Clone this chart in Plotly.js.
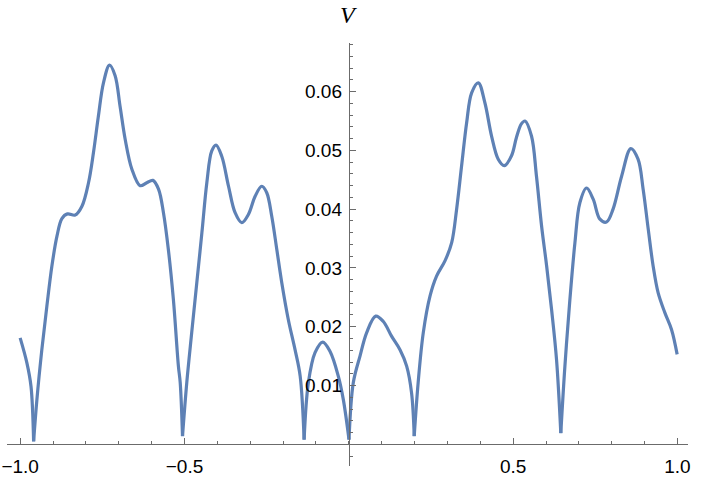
<!DOCTYPE html>
<html>
<head>
<meta charset="utf-8">
<script src="https://cdn.plot.ly/plotly-3.0.1.min.js"></script>
<style>html,body{margin:0;padding:0;background:#fff;}#chart{width:720px;height:480px;}</style>
</head>
<body>
<div id="chart"></div>
<script>
// Data
const tValues = [-1.000,-0.9795,-0.967,-0.959,-0.949,-0.934,-0.9187,-0.9035,-0.888,-0.873,-0.856,-0.8326,-0.812,-0.792,-0.777,-0.762,-0.7465,-0.728,-0.711,-0.696,-0.6805,-0.660,-0.635,-0.6146,-0.596,-0.579,-0.564,-0.549,-0.5337,-0.5185,-0.513,-0.506,-0.493,-0.478,-0.4625,-0.447,-0.432,-0.417,-0.404,-0.3866,-0.366,-0.346,-0.3257,-0.3056,-0.285,-0.265,-0.2497,-0.2345,-0.219,-0.204,-0.184,-0.1636,-0.148,-0.136,-0.123,-0.1028,-0.0794,-0.057,-0.032,-0.0167,0.0006,0.0137,0.034,0.0544,0.0818,0.105,0.130,0.1557,0.176,0.191,0.199,0.211,0.2266,0.247,0.267,0.2925,0.313,0.328,0.343,0.3585,0.3737,0.394,0.414,0.4345,0.4546,0.473,0.495,0.510,0.525,0.536,0.556,0.571,0.5866,0.602,0.617,0.632,0.645,0.6575,0.6726,0.688,0.703,0.7234,0.7435,0.764,0.784,0.804,0.830,0.858,0.880,0.8955,0.911,0.926,0.941,0.9615,0.982,0.999];
const vValues = [0.0181,0.01386,0.00988,0.0005,0.0076,0.0161,0.0235,0.0303,0.0354,0.0384,0.0392,0.0390,0.0405,0.0445,0.0496,0.0558,0.0615,0.0645,0.0627,0.0575,0.0519,0.0468,0.0440,0.0445,0.0449,0.0434,0.0394,0.0331,0.0246,0.0133,0.0105,0.0014,0.0105,0.019,0.0275,0.036,0.0445,0.0499,0.0509,0.049,0.0439,0.0394,0.0377,0.0391,0.0422,0.0439,0.0428,0.0388,0.0331,0.0275,0.0212,0.0161,0.0116,0.0008,0.0105,0.0156,0.0174,0.0158,0.0116,0.0076,0.0008,0.0105,0.015,0.019,0.0218,0.0209,0.0184,0.0161,0.0133,0.0087,0.0014,0.0105,0.019,0.0252,0.0286,0.0312,0.0343,0.040,0.0473,0.0547,0.0598,0.0615,0.0581,0.0524,0.0485,0.0474,0.0491,0.0522,0.0545,0.055,0.0524,0.0456,0.0371,0.0303,0.0229,0.0144,0.0019,0.0133,0.0246,0.0343,0.0411,0.0436,0.0417,0.0383,0.0378,0.040,0.0456,0.0503,0.0485,0.0434,0.0366,0.0303,0.0258,0.0224,0.0195,0.0153];
const xTickVals = [-1, -0.5, 0.5, 1];
const xTickText = ['\u22121.0', '\u22120.5', '0.5', '1.0'];
const yTickVals = [0.01, 0.02, 0.03, 0.04, 0.05, 0.06];
const yTickText = ['0.01', '0.02', '0.03', '0.04', '0.05', '0.06'];

const xRange = [-1.04, 1.032];
const yRange = [-0.00369, 0.06827];
const lineColor = 'rgb(94,129,181)';
const axisColor = '#6b6b6b';

// split curve at cusps (local minima near zero) so each lobe is smoothed separately
const traces = [];
let segT = [], segV = [];
for (let i = 0; i < tValues.length; i++) {
  segT.push(tValues[i]); segV.push(vValues[i]);
  const isCusp = i > 0 && i < tValues.length - 1 && vValues[i] < 0.003 &&
                 vValues[i] < vValues[i-1] && vValues[i] < vValues[i+1];
  if (isCusp || i === tValues.length - 1) {
    traces.push({x: segT, y: segV, type: 'scatter', mode: 'lines',
      line: {color: lineColor, width: 3.2, shape: 'spline', smoothing: 1.0},
      hoverinfo: 'skip', showlegend: false});
    segT = [tValues[i]]; segV = [vValues[i]];
  }
}

const xPos = (0 - yRange[0]) / (yRange[1] - yRange[0]);
const yPos = (0 - xRange[0]) / (xRange[1] - xRange[0]);
const tickFont = {family: 'Liberation Sans, Arial, sans-serif', size: 19, color: '#000'};

const layout = {
  width: 720, height: 480,
  margin: {l: 7, r: 32, t: 43, b: 14, pad: 0},
  paper_bgcolor: '#fff', plot_bgcolor: '#fff',
  showlegend: false,
  xaxis: {
    range: xRange, anchor: 'free', position: xPos,
    showline: true, linecolor: axisColor, linewidth: 1,
    showgrid: false, zeroline: false,
    ticks: 'inside', ticklen: 6, tickwidth: 1, tickcolor: axisColor,
    tickmode: 'array', tickvals: xTickVals, ticktext: xTickText,
    tickfont: tickFont, ticklabelstandoff: 5,
    minor: {ticks: 'inside', ticklen: 3.5, tickwidth: 1, tickcolor: axisColor, dtick: 0.1, tick0: 0, showgrid: false}
  },
  yaxis: {
    range: yRange, anchor: 'free', position: yPos,
    showline: true, linecolor: axisColor, linewidth: 1,
    showgrid: false, zeroline: false,
    ticks: 'inside', ticklen: 6, tickwidth: 1, tickcolor: axisColor,
    tickmode: 'array', tickvals: yTickVals, ticktext: yTickText,
    tickfont: tickFont, ticklabelstandoff: 3,
    minor: {ticks: 'inside', ticklen: 3.5, tickwidth: 1, tickcolor: axisColor, dtick: 0.002, tick0: 0, showgrid: false}
  },
  annotations: [
    {text: '<i>V</i>', xref: 'x', x: 0, yref: 'paper', y: 1.066, xanchor: 'center', yanchor: 'middle',
     showarrow: false, font: {family: 'Liberation Serif, Times New Roman, serif', size: 24, color: '#000'}},
    {text: '<i>t</i>', xref: 'x', x: 1.1045, yref: 'y', y: 0, xanchor: 'center', yanchor: 'middle',
     showarrow: false, font: {family: 'Liberation Serif, Times New Roman, serif', size: 24, color: '#000'}}
  ]
};

Plotly.newPlot('chart', traces, layout, {displayModeBar: false, staticPlot: true});
</script>
</body>
</html>
